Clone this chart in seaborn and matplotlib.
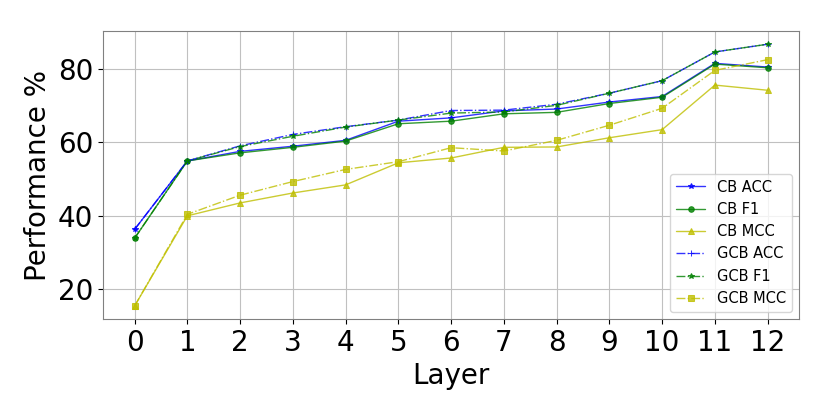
import matplotlib
matplotlib.use("Agg")
import matplotlib.pyplot as plt
import seaborn as sns
import pandas as pd

layers = list(range(13))
cb_acc = [36.3, 54.9, 57.5, 58.9, 60.5, 65.7, 66.6, 68.5, 69.0, 70.9, 72.4, 81.4, 80.4]
cb_f1 = [33.9, 54.9, 57.1, 58.6, 60.3, 65.0, 65.7, 67.7, 68.1, 70.5, 72.2, 81.2, 80.2]
cb_mcc = [15.5, 40.0, 43.5, 46.2, 48.4, 54.4, 55.7, 58.6, 58.7, 61.2, 63.4, 75.5, 74.1]
gcb_acc = [36.3, 54.9, 59.0, 62.1, 64.2, 66.0, 68.6, 68.7, 70.3, 73.3, 76.7, 84.5, 86.6]
gcb_f1 = [33.9, 54.9, 58.8, 61.6, 64.1, 66.0, 67.9, 68.2, 70.0, 73.3, 76.7, 84.5, 86.6]
gcb_mcc = [15.5, 40.4, 45.6, 49.3, 52.6, 54.7, 58.5, 57.6, 60.5, 64.6, 69.2, 79.5, 82.4]

series_names = ["CB ACC", "CB F1", "CB MCC", "GCB ACC", "GCB F1", "GCB MCC"]
series_values = [cb_acc, cb_f1, cb_mcc, gcb_acc, gcb_f1, gcb_mcc]
colors = ["b", "g", "y", "b", "g", "y"]
markers = ["*", "o", "^", "+", "*", "s"]
styles = ["-", "-", "-", "-.", "-.", "-."]

sns.set_style("ticks", {"text.color": "black", "axes.labelcolor": "black",
                        "xtick.color": "black", "ytick.color": "black"})
fig, ax = plt.subplots(figsize=(8.3, 4.15), dpi=100)
fig.subplots_adjust(left=0.124, right=0.963, top=0.925, bottom=0.231)

for name, vals, c, m, ls in zip(series_names, series_values, colors, markers, styles):
    df = pd.DataFrame({"Layer": layers, "v": vals})
    sns.lineplot(data=df, x="Layer", y="v", ax=ax, color=c, marker=m, linestyle=ls,
                 label=name, linewidth=1.0, markersize=4, markeredgecolor=c, alpha=0.8)

ax.set_xticks(layers)
ax.set_yticks([20, 40, 60, 80])
ax.tick_params(labelsize=20, colors="black", length=3.5)
ax.set_xlabel("Layer", fontsize=20, color="black")
ax.set_ylabel("Performance %", fontsize=20, color="black")
ax.grid(True, color="#c0c0c0", linewidth=0.8)
for s in ax.spines.values():
    s.set_color("#808080")
    s.set_visible(True)
leg = ax.legend(loc="lower right", fontsize=10.5, framealpha=0.8)
for t in leg.get_texts():
    t.set_color("black")
fig.savefig("out.png", dpi=100)
